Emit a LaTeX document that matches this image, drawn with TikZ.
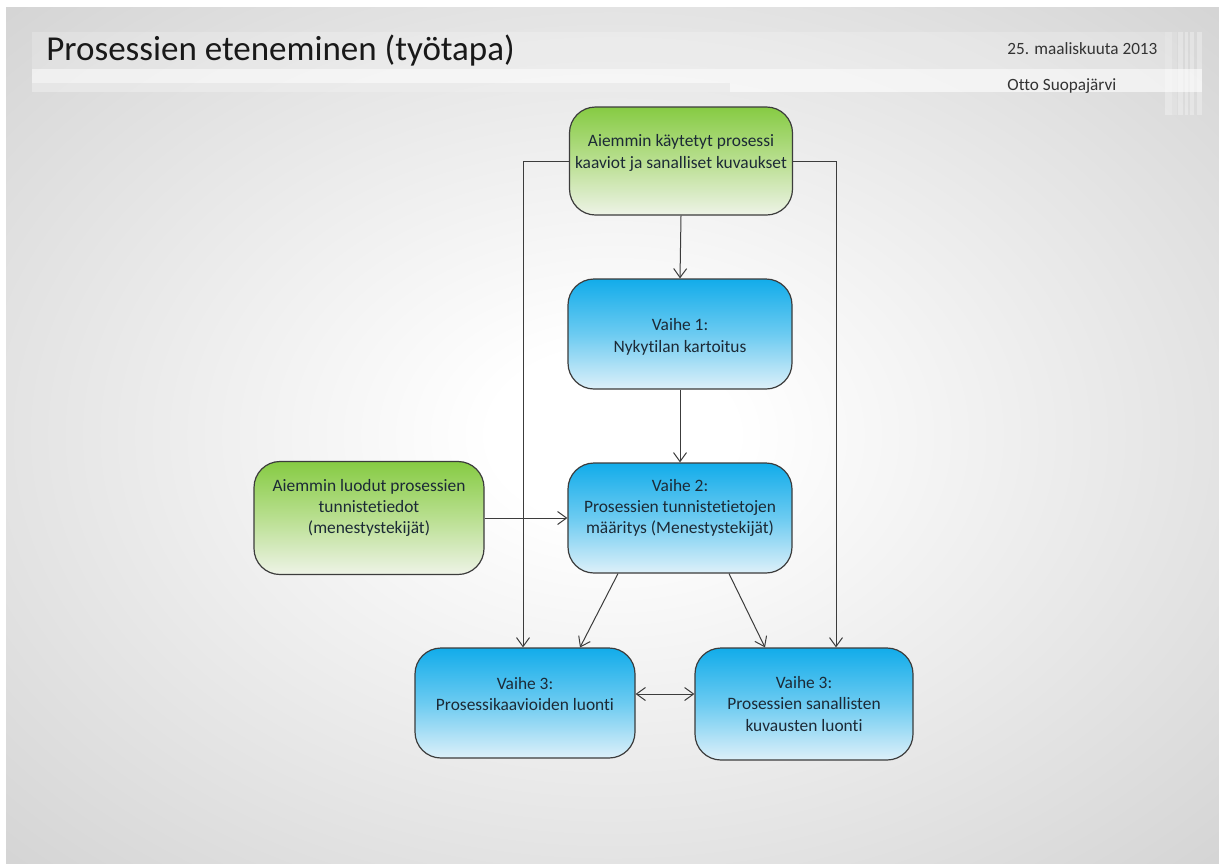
\documentclass[tikz,border=0pt]{standalone}
\usepackage{fontspec}
\setmainfont{Carlito}[Ligatures={NoCommon}]
\usetikzlibrary{arrows.meta}

\definecolor{bgA}{HTML}{C3C3C3}
\definecolor{bgB}{HTML}{BDBDBD}
\definecolor{edge}{HTML}{3C3C3C}
\definecolor{ink}{HTML}{1C2A36}
\definecolor{blueA}{HTML}{12ACEA}
\definecolor{blueB}{HTML}{6CCBF1}
\definecolor{blueC}{HTML}{DDF0F9}
\definecolor{greenA}{HTML}{86CB43}
\definecolor{greenB}{HTML}{B9DF90}
\definecolor{greenC}{HTML}{EEF3E7}

% soft radial backdrop: white centre fading to grey edges
\pgfdeclareradialshading{backdrop}{\pgfpoint{0bp}{0bp}}{%
  color(0bp)=(white); color(5bp)=(white); color(48bp)=(bgA); color(72bp)=(bgB)}

\tikzset{
  box/.style={draw=edge, line width=0.6pt, rounded corners=13pt,
    minimum width=112pt, minimum height=55pt, inner sep=0pt},
  bluebox/.style={box, top color=blueA, bottom color=blueC, middle color=blueB},
  greenbox/.style={box, top color=greenA, bottom color=greenC, middle color=greenB},
  txt/.style={font=\fontsize{8.7}{10.7}\selectfont, text=ink, align=center, inner sep=0pt},
  conn/.style={draw=edge, line width=0.5pt, -{Straight Barb[length=4.5pt,width=6.5pt]}},
  conn2/.style={draw=edge, line width=0.5pt,
    {Straight Barb[length=4.5pt,width=6.5pt]}-{Straight Barb[length=4.5pt,width=6.5pt]}},
  band/.style={fill=white, draw=none},
  stripe/.style={fill=white, draw=none, opacity=0.3},
}

\begin{document}
\begin{tikzpicture}[x=0.5pt, y=-0.5pt]
\useasboundingbox (0,0) rectangle (1219,863);
\fill[white] (0,0) rectangle (1219,863);
\shade[shading=backdrop] (6,7) rectangle (1219,863);

% header bands
\fill[band, opacity=0.2] (32,32) rectangle (1165,69);
\fill[band, opacity=0.6] (32,69) rectangle (1202,92);
\fill[black, opacity=0.04] (32,83) rectangle (730,92);
% vertical stripes at the right end of the header
\fill[stripe] (1165,32) rectangle (1172,115);
\fill[stripe, opacity=0.15] (1172,32) rectangle (1177,115);
\fill[stripe] (1178,32) rectangle (1183,115);
\fill[stripe] (1185,32) rectangle (1188,115);
\fill[stripe] (1190,32) rectangle (1194,115);
\fill[stripe] (1197,32) rectangle (1202,115);

\node[anchor=base west, inner sep=0pt, text=black!90,
  font=\fontsize{17.5}{20}\selectfont] (title) at (46,60) {Prosessien eteneminen (työtapa)};
\node[anchor=base west, inner sep=0pt, text=black!80,
  font=\fontsize{8.6}{10}\selectfont] (date) at (1007,54) {25. maaliskuuta 2013};
\node[anchor=base west, inner sep=0pt, text=black!80,
  font=\fontsize{8.6}{10}\selectfont] (author) at (1007,90) {Otto Suopajärvi};

% boxes
\node[greenbox, minimum width=111.5pt, minimum height=54pt] (src) at (681,161) {};
\node[txt] (srct) at (681,153) {Aiemmin käytetyt prosessi\\kaaviot ja sanalliset kuvaukset};

\node[bluebox] (v1) at (680,334) {};
\node[txt] (v1t) at (680,337) {Vaihe 1:\\Nykytilan kartoitus};

\node[bluebox] (v2) at (680,518) {};
\node[txt] (v2t) at (680,508) {Vaihe 2:\\Prosessien tunnistetietojen\\määritys (Menestystekijät)};

\node[greenbox, minimum width=115pt, minimum height=56.5pt] (prev) at (369,518) {};
\node[txt] (prevt) at (369,508) {Aiemmin luodut prosessien\\tunnistetiedot\\(menestystekijät)};

\node[bluebox, minimum width=110pt] (v3a) at (525,703) {};
\node[txt] (v3at) at (525,694) {Vaihe 3:\\Prosessikaavioiden luonti};

\node[bluebox, minimum width=109pt, minimum height=56pt] (v3b) at (804,704) {};
\node[txt] (v3bt) at (804,704) {Vaihe 3:\\Prosessien sanallisten\\kuvausten luonti};

% connector guide points
\coordinate (lx) at (523,0);
\coordinate (rx) at (836,0);
\coordinate (a1) at (618,0);
\coordinate (a2) at (580,0);
\coordinate (b1) at (729,0);
\coordinate (b2) at (765,0);
\coordinate (dy) at (0,694);

% connectors
\draw[conn] (src.west) -| (v3a.north -| lx);
\draw[conn] (src.east) -| (v3b.north -| rx);
\draw[conn] (src.south) -- (v1.north);
\draw[conn] (v1.south) -- (v2.north);
\draw[conn] (prev.east) -- (v2.west);
\draw[conn] (v2.south -| a1) -- (v3a.north -| a2);
\draw[conn] (v2.south -| b1) -- (v3b.north -| b2);
\draw[conn2] (v3a.east |- dy) -- (v3b.west |- dy);
\end{tikzpicture}
\end{document}
